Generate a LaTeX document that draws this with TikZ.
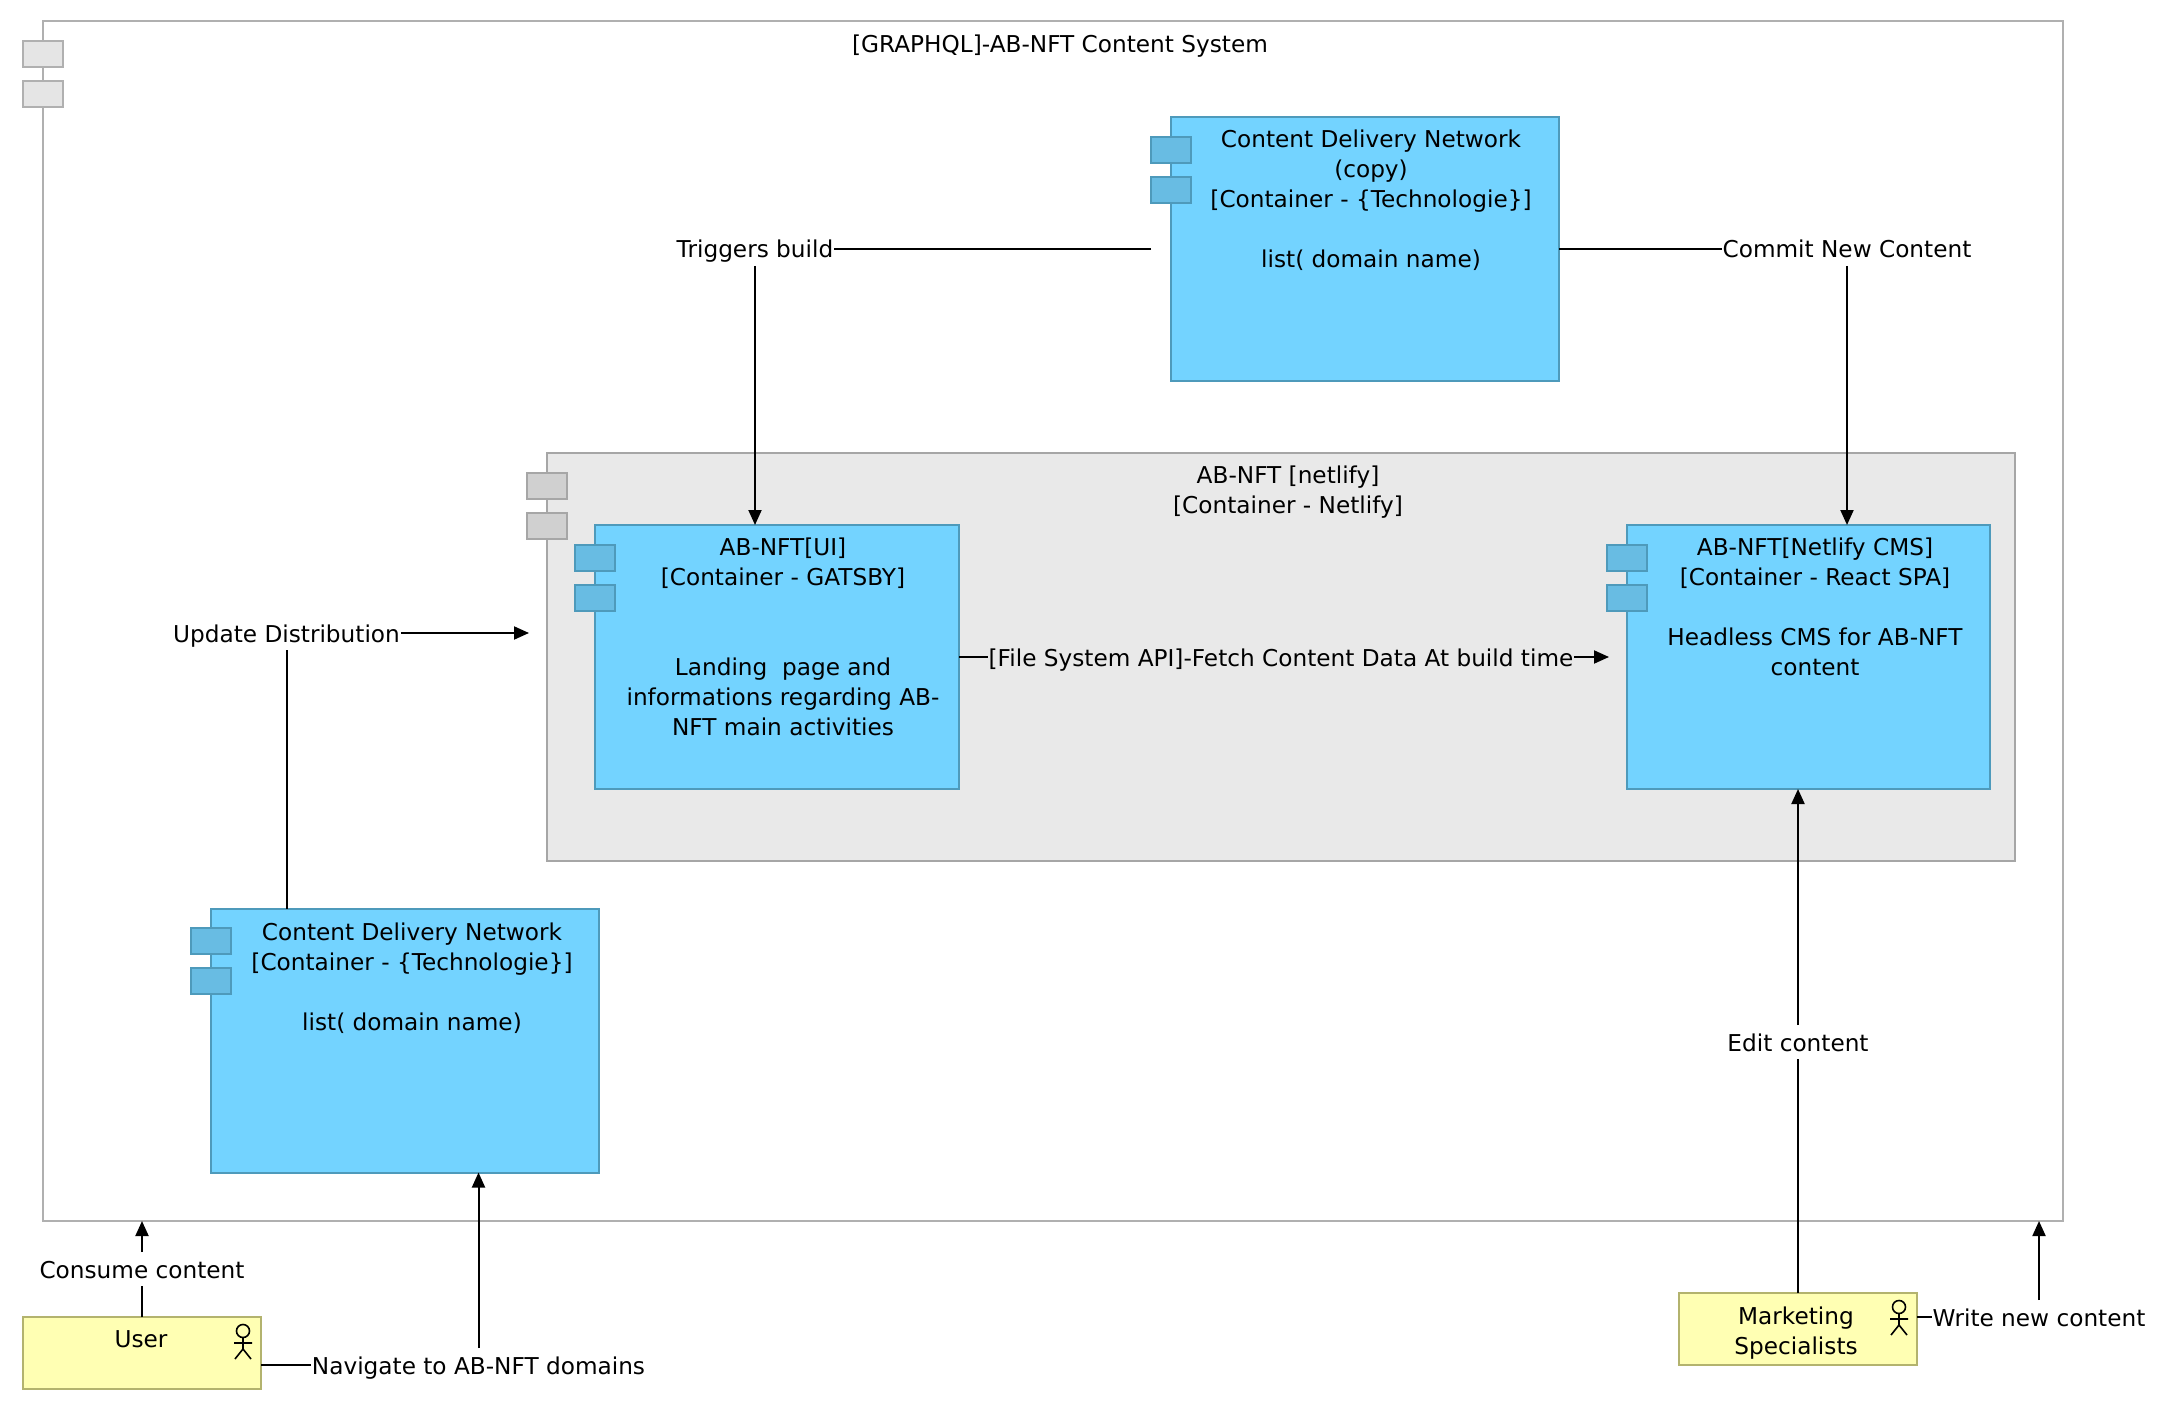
\documentclass[tikz,border=0pt]{standalone}
\usepackage{fontspec}
\setmainfont{DejaVu Sans}
\usetikzlibrary{arrows.meta,calc}
\tikzset{
  boxbase/.style={draw,rectangle,line width=2pt,inner sep=0pt,outer sep=0pt},
  outerbox/.style={boxbase,draw=outerline,fill=white},
  outertab/.style={boxbase,draw=outerline,fill=outertabfill,minimum width=40pt,minimum height=26pt},
  groupbox/.style={boxbase,draw=groupline,fill=groupfill},
  grouptab/.style={boxbase,draw=groupline,fill=grouptabfill,minimum width=40pt,minimum height=26pt},
  bluebox/.style={boxbase,draw=blueline,fill=bluefill},
  bluetab/.style={boxbase,draw=blueline,fill=bluetabfill,minimum width=40pt,minimum height=26pt},
  personbox/.style={boxbase,draw=personline,fill=personfill,minimum width=238pt,minimum height=72pt},
  txt/.style={inner sep=0pt,outer sep=0pt,align=center,font=\fontsize{23.2}{30}\selectfont},
  lbl/.style={txt,inner xsep=1pt,inner ysep=0pt,text height=26pt,text depth=8pt,outer sep=0pt},
  conn/.style={line width=2pt,black},
  arr/.style={conn,-{Triangle[length=15pt,width=13pt]}},
  pics/actor/.style={code={
    \draw[line width=1.6pt,black] (0,0) circle (6.5pt);
    \draw[line width=1.6pt,black] (0,6.5) -- (0,18) (-9,12) -- (9,12) (-8,28) -- (0,18) -- (8,28);
  }}
}
\definecolor{outerline}{HTML}{B0B0B0}
\definecolor{outertabfill}{HTML}{E5E5E5}
\definecolor{groupline}{HTML}{A6A6A6}
\definecolor{groupfill}{HTML}{E9E9E9}
\definecolor{grouptabfill}{HTML}{D0D0D0}
\definecolor{blueline}{HTML}{4E9ABB}
\definecolor{bluefill}{HTML}{73D3FF}
\definecolor{bluetabfill}{HTML}{68BCE3}
\definecolor{personline}{HTML}{B3B36E}
\definecolor{personfill}{HTML}{FFFFB3}
\begin{document}
\begin{tikzpicture}[x=1pt,y=-1pt]
\useasboundingbox (0,0) rectangle (2184,1420);
% outer system
\node[outerbox,minimum width=2020pt,minimum height=1200pt] (system) at (1053,621) {};
\node[outertab] (systabA) at (43,54) {};
\node[outertab] (systabB) at (43,94) {};
\node[txt] (systext) at (1060,46) {[GRAPHQL]-AB-NFT Content System};
% netlify group
\node[groupbox,minimum width=1468pt,minimum height=408pt] (netlify) at (1281,657) {};
\node[grouptab] (nettabA) at (547,486) {};
\node[grouptab] (nettabB) at (547,526) {};
\node[txt,anchor=north] (nettext) at (1288,465.5) {AB-NFT [netlify]\\{}[Container - Netlify]};
% UI
\node[bluebox,minimum width=364pt,minimum height=264pt] (ui) at (777,657) {};
\node[bluetab] (uitabA) at (595,558) {};
\node[bluetab] (uitabB) at (595,598) {};
\node[txt,anchor=north] (uitext) at (783,538) {AB-NFT[UI]\\{}[Container - GATSBY]\\ \\ \\Landing\ \ page and\\informations regarding AB-\\NFT main activities};
% CMS
\node[bluebox,minimum width=363pt,minimum height=264pt] (cms) at (1808.5,657) {};
\node[bluetab] (cmstabA) at (1627,558) {};
\node[bluetab] (cmstabB) at (1627,598) {};
\node[txt,anchor=north] (cmstext) at (1815,538) {AB-NFT[Netlify CMS]\\{}[Container - React SPA]\\ \\Headless CMS for AB-NFT\\content};
% CDN copy
\node[bluebox,minimum width=388pt,minimum height=264pt] (copy) at (1365,249) {};
\node[bluetab] (copytabA) at (1171,150) {};
\node[bluetab] (copytabB) at (1171,190) {};
\node[txt,anchor=north] (copytext) at (1371,130) {Content Delivery Network\\(copy)\\{}[Container - \{Technologie\}]\\ \\list( domain name)};
% CDN
\node[bluebox,minimum width=388pt,minimum height=264pt] (cdn) at (405,1040.5) {};
\node[bluetab] (cdntabA) at (211,941) {};
\node[bluetab] (cdntabB) at (211,981) {};
\node[txt,anchor=north] (cdntext) at (412,923) {Content Delivery Network\\{}[Container - \{Technologie\}]\\ \\list( domain name)};
% people
\node[personbox] (user) at (142,1353) {};
\node[txt] (usertext) at (141,1339) {User};
\pic at (243,1331) {actor};
\node[personbox] (mkt) at (1798,1329) {};
\node[txt,anchor=north] (mkttext) at (1796,1307) {Marketing\\Specialists};
\pic at (1899,1307) {actor};
% connector labels
\node[lbl] (trig) at (755,249) {Triggers build};
\node[lbl] (commit) at (1847,249) {Commit New Content};
\node[lbl] (upd) at (286.5,633) {Update Distribution};
\node[lbl] (fetch) at (1281,657) {[File System API]-Fetch Content Data At build time};
\node[lbl] (edit) at (1798,1042) {Edit content};
\node[lbl] (consume) at (142,1269) {Consume content};
\node[lbl] (nav) at (478.5,1365) {Navigate to AB-NFT domains};
\node[lbl] (write) at (2039,1317) {Write new content};
% free ends
\coordinate (copyleft) at (1151,249);
\coordinate (netleft) at (529,633);
\coordinate (cmsleft) at (1609,657);
% connectors
\draw[conn] (copyleft) -- (trig.east);
\draw[arr] (trig.south) -- (trig.south |- ui.north);
\draw[conn] (copy.east |- commit.west) -- (commit.west);
\draw[arr] (commit.south) -- (commit.south |- cms.north);
\draw[conn] (upd.south |- cdn.north) -- (upd.south);
\draw[arr] (upd.east) -- (netleft);
\draw[conn] (ui.east |- fetch.west) -- (fetch.west);
\draw[arr] (fetch.east) -- (cmsleft);
\draw[conn] (edit.south |- mkt.north) -- (edit.south);
\draw[arr] (edit.north) -- (edit.north |- cms.south);
\draw[conn] (consume.south |- user.north) -- (consume.south);
\draw[arr] (consume.north) -- (consume.north |- system.south);
\draw[conn] (user.east |- nav.west) -- (nav.west);
\draw[arr] (nav.north) -- (nav.north |- cdn.south);
\draw[conn] (mkt.east |- write.west) -- (write.west);
\draw[arr] (write.north) -- (write.north |- system.south);
\end{tikzpicture}
\end{document}
